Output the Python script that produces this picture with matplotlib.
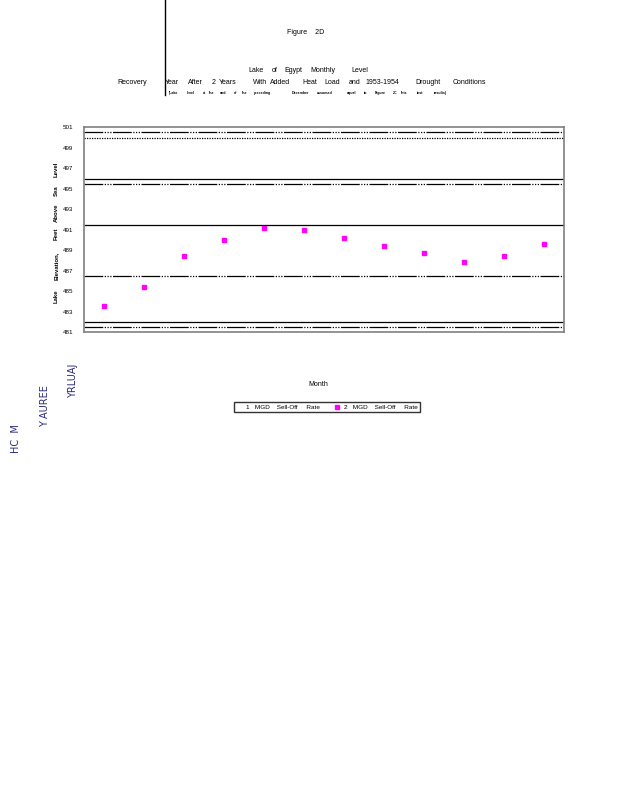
import matplotlib
matplotlib.use('Agg')
import matplotlib.pyplot as plt
from matplotlib.lines import Line2D

plt.rcParams['font.family'] = ['Liberation Sans Narrow', 'Liberation Sans', 'DejaVu Sans']

# data
months = [1, 2, 3, 4, 5, 6, 7, 8, 9, 10, 11, 12]
elev_2mgd = [483.6, 485.4, 488.4, 490.0, 491.15, 490.95, 490.2, 489.4, 488.7, 487.9, 488.4, 489.6]
elev_1mgd = []   # legend entry only, nothing drawn

solid_levels = [496.0, 491.5, 482.0]
dashdot_levels = [500.5, 495.5, 486.5, 481.5]
dotted_levels = [500.0]

yticks = list(range(481, 502, 2))

title_line1 = ['Lake', 'of', 'Egypt', 'Monthly', 'Level']
title_x1 = [256, 275, 293, 323, 360]
title_line2 = ['Recovery', 'Year', 'After', '2', 'Years', 'With', 'Added', 'Heat', 'Load',
               'and', '1953-1954', 'Drought', 'Conditions']
title_x2 = [132, 172, 195, 214, 228, 260, 280, 310, 332, 355, 382, 428, 469]
title_line3 = ['(Lake', 'level', 'at', 'the', 'end', 'of', 'the', 'preceding', 'December',
               'assumed', 'equal', 'to', 'Figure', '2C', 'this', 'test', 'results)']
title_x3 = [174, 191, 205, 212, 223, 236, 245, 262, 300, 325, 352, 366, 380, 395, 404, 420, 440]

ylab_words = ['Lake', 'Elevation,', 'Feet', 'Above', 'Sea', 'Level']
ylab_y = [296, 266, 234, 213, 191, 169]

W, H = 618, 800
fig = plt.figure(figsize=(6.18, 8), dpi=100)

def px(x, y):
    return x / W, 1 - y / H

ax = fig.add_axes([84 / W, 1 - 332.3 / H, 480 / W, 205 / H])
ax.set_xlim(0.5, 12.5)
ax.set_ylim(481, 501)

dashdot = (0, (15, 1.2, 1, 1.2, 1, 1.2, 1, 1.2))
for v in solid_levels:
    ax.axhline(v, color='black', lw=0.9, solid_capstyle='butt')
for v in dashdot_levels:
    ax.axhline(v, color='black', lw=0.9, linestyle=dashdot)
for v in dotted_levels:
    ax.axhline(v, color='black', lw=0.9, linestyle=(0, (1, 1)))

ax.plot(months[:len(elev_1mgd)], elev_1mgd, lw=0)
ax.plot(months, elev_2mgd, linestyle='none', marker='s', ms=3.2,
        color='#FF00FF', mec='#FF00FF')

ax.set_xticks([])
ax.set_yticks(yticks)
ax.set_yticklabels([str(t) for t in yticks], fontsize=4.5)
ax.tick_params(axis='y', length=0, pad=8)
for s in ax.spines.values():
    s.set_color('#808080')
    s.set_linewidth(1.2)

# title
fig.text(*px(306, 33), 'Figure    2D', fontsize=5, ha='center', va='center')
for w, x in zip(title_line1, title_x1):
    fig.text(*px(x, 70), w, fontsize=5, ha='center', va='center')
for w, x in zip(title_line2, title_x2):
    fig.text(*px(x, 83), w, fontsize=5, ha='center', va='center')
for w, x in zip(title_line3, title_x3):
    fig.text(*px(x, 93), w, fontsize=2.6, ha='center', va='center', weight='bold')

fig.add_artist(Line2D([165 / W, 165 / W], [1, 1 - 95 / H], color='black', lw=1))

# y label, word by word
for w, y in zip(ylab_words, ylab_y):
    fig.text(*px(56, y), w, fontsize=4.3, rotation=90, ha='center', va='center', weight='bold')

fig.text(*px(318, 385), 'Month', fontsize=5, ha='center', va='center')

# stray rotated text on the left
fig.text(*px(73, 381), 'YRLUAJ', fontsize=7, rotation=90, ha='center', va='center',
         color='#2a2a80', family='DejaVu Sans')
fig.text(*px(45, 406), 'Y AUREE', fontsize=7, rotation=90, ha='center', va='center',
         color='#2a2a80', family='DejaVu Sans')
fig.text(*px(16, 439), 'HC  M', fontsize=7, rotation=90, ha='center', va='center',
         color='#2a2a80', family='DejaVu Sans')

handles = [Line2D([], [], lw=0),
           Line2D([], [], linestyle='none', marker='s', ms=3, color='#FF00FF')]
labels = ['1   MGD    Sell-Off     Rate', '2   MGD    Sell-Off     Rate']
leg = fig.legend(handles, labels, loc='center', bbox_to_anchor=px(327, 407), ncol=2,
                 fontsize=4.6, frameon=True, fancybox=False, edgecolor='black',
                 borderpad=0.3, handlelength=1.0, handletextpad=0.6, columnspacing=2.2)
leg.get_frame().set_linewidth(1)

fig.savefig('out.png', dpi=100)
